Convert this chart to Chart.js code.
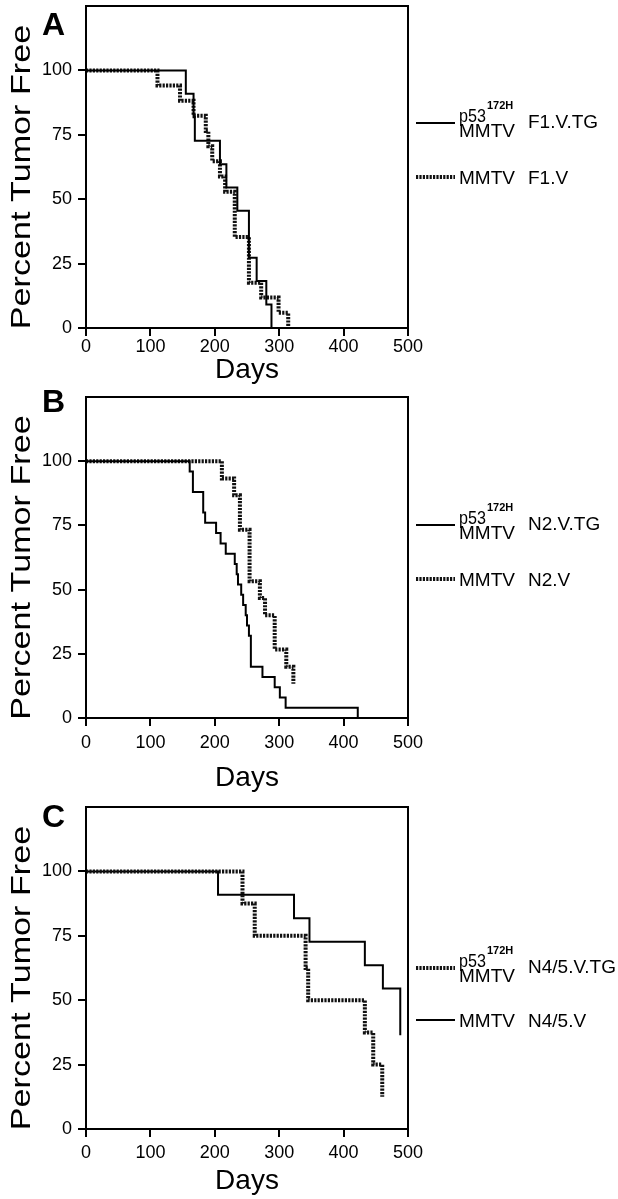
<!DOCTYPE html>
<html>
<head>
<meta charset="utf-8">
<script src="https://cdn.jsdelivr.net/npm/chart.js@4/dist/chart.umd.min.js"></script>
<style>
  body { margin: 0; background: #fff; }
  #wrap { position: relative; width: 618px; height: 1199px; }
  canvas { position: absolute; left: 0; display: block; }
</style>
</head>
<body>
<div id="wrap">
  <canvas id="panelA" width="618" height="385" style="top:0px"></canvas>
  <canvas id="panelB" width="618" height="410" style="top:385px"></canvas>
  <canvas id="panelC" width="618" height="404" style="top:795px"></canvas>
</div>
<script>
// axis ticks
const xTicks = [0, 100, 200, 300, 400, 500];
const yTicks = [0, 25, 50, 75, 100];

// Panel A (F1)
const aTgDays = [0, 155, 167, 169, 208, 218, 235, 253, 265, 280, 288];
const aTgPct  = [100, 90.9, 81.8, 72.7, 63.6, 54.5, 45.5, 27.3, 18.2, 9.1, 0];
const aVDays  = [0, 111, 146, 167, 186, 190, 196, 208, 216, 231, 253, 272, 299, 314];
const aVPct   = [100, 94.1, 88.2, 82.4, 76.5, 70.6, 64.7, 58.8, 52.9, 35.3, 17.6, 11.8, 5.9, 0];

// Panel B (N2)
const bTgDays = [0, 161, 166, 182, 185, 202, 209, 217, 231, 234, 236, 241, 244, 248, 250, 253, 256, 274, 293, 301, 310, 422];
const bTgPct  = [100, 96, 88, 80, 76, 72, 68, 64, 60, 56, 52, 48, 44, 40, 36, 32, 20, 16, 12, 8, 4, 0];
const bVDays  = [0, 211, 230, 239, 254, 270, 278, 293, 311, 322];
const bVPct   = [100, 93.3, 86.7, 73.3, 53.3, 46.7, 40, 26.7, 20, 13.3];

// Panel C (N4/5)
const cTgDays = [0, 243, 262, 341, 345, 433, 446, 460];
const cTgPct  = [100, 87.5, 75, 62.5, 50, 37.5, 25, 12.5];
const cVDays  = [0, 205, 323, 347, 433, 461, 488];
const cVPct   = [100, 90.9, 81.8, 72.7, 63.6, 54.5, 36.4];

const FONT = '"Liberation Sans", Arial, Helvetica, sans-serif';

function toPoints(days, pct) {
    return days.map((d, i) => ({ x: d, y: pct[i] }));
}

function solidSet(days, pct) {
    return { data: toPoints(days, pct), borderColor: '#000', borderWidth: 2,
             pointRadius: 0, stepped: true, fill: false };
}

function dashedSet(days, pct) {
    return { data: toPoints(days, pct), borderColor: '#111', borderWidth: 4,
             borderDash: [2.2, 1.2], pointRadius: 0, stepped: true, fill: false };
}

// frame, panel letter, rotated y title and the legend at the right
const panelDecor = {
    id: 'panelDecor',
    afterDraw(chart, args, opts) {
        const ctx = chart.ctx;
        const a = chart.chartArea;
        ctx.save();
        ctx.strokeStyle = '#000';
        ctx.lineWidth = 2;
        ctx.setLineDash([]);
        ctx.strokeRect(a.left, a.top, a.right - a.left, a.bottom - a.top);

        ctx.fillStyle = '#000';
        ctx.font = 'bold 32px ' + FONT;
        ctx.textBaseline = 'alphabetic';
        ctx.fillText(opts.letter, 42, opts.letterY);

        // y title
        ctx.save();
        ctx.translate(22, (a.top + a.bottom) / 2 + 10);
        ctx.rotate(-Math.PI / 2);
        ctx.scale(1.22, 1);
        ctx.font = '28px ' + FONT;
        ctx.textAlign = 'center';
        ctx.textBaseline = 'middle';
        ctx.fillText('Percent Tumor Free', 0, 0);
        ctx.restore();

        // legend
        opts.rows.forEach(row => {
            const ds = chart.data.datasets[row.ds];
            ctx.save();
            ctx.strokeStyle = ds.borderColor;
            ctx.lineWidth = ds.borderWidth;
            ctx.setLineDash(ds.borderDash || []);
            ctx.beginPath();
            ctx.moveTo(416, row.y);
            ctx.lineTo(455, row.y);
            ctx.stroke();
            ctx.restore();

            ctx.textAlign = 'left';
            ctx.textBaseline = 'alphabetic';
            if (row.tg) {
                ctx.save();
                ctx.translate(459, row.y - 1);
                ctx.scale(0.85, 1);
                ctx.font = '19px ' + FONT;
                ctx.fillText('p53', 0, 0);
                const w = ctx.measureText('p53').width * 0.85;
                ctx.restore();
                ctx.font = 'bold 11px ' + FONT;
                ctx.fillText('172H', 459 + w + 1, row.y - 14);
                ctx.font = '19px ' + FONT;
                ctx.fillText('MMTV', 459, row.y + 14);
                ctx.fillText(row.group, 528, row.y + 5);
            } else {
                ctx.font = '19px ' + FONT;
                ctx.fillText('MMTV', 459, row.y + 7);
                ctx.fillText(row.group, 528, row.y + 7);
            }
        });
        ctx.restore();
    }
};

function makePanel(id, datasets, p) {
    const ctx = document.getElementById(id).getContext('2d');
    return new Chart(ctx, {
        type: 'line',
        data: { datasets: datasets },
        plugins: [panelDecor],
        options: {
            responsive: false,
            animation: false,
            devicePixelRatio: 1,
            layout: { padding: { top: p.padTop, right: 210, left: 0, bottom: 0 } },
            plugins: {
                legend: { display: false },
                tooltip: { enabled: false },
                panelDecor: { letter: p.letter, letterY: p.letterY, rows: p.rows }
            },
            scales: {
                x: {
                    type: 'linear', min: 0, max: 500,
                    afterBuildTicks: s => { s.ticks = xTicks.map(v => ({ value: v })); },
                    afterFit: s => { s.height = p.xAxisH; s.paddingLeft = 0; s.paddingRight = 0; },
                    grid: { drawOnChartArea: false, drawTicks: true, tickLength: 8, color: '#000', lineWidth: 2 },
                    border: { display: false },
                    ticks: { color: '#000', font: { family: FONT, size: 18 }, padding: p.xTickPad, maxRotation: 0, autoSkip: false },
                    title: { display: true, text: 'Days', color: '#000',
                             font: { family: FONT, size: 28, lineHeight: 1 },
                             padding: { top: 0, bottom: p.titlePad } }
                },
                y: {
                    min: 0, max: 125,
                    afterBuildTicks: s => { s.ticks = yTicks.map(v => ({ value: v })); },
                    afterFit: s => { s.width = 86; s.paddingTop = 0; s.paddingBottom = 0; },
                    grid: { drawOnChartArea: false, drawTicks: true, tickLength: 8, color: '#000', lineWidth: 2 },
                    border: { display: false },
                    ticks: { color: '#000', font: { family: FONT, size: 18 }, padding: 6 }
                }
            }
        }
    });
}

makePanel('panelA', [solidSet(aTgDays, aTgPct), dashedSet(aVDays, aVPct)], {
    padTop: 6, xAxisH: 57, xTickPad: 0, titlePad: 1, letter: 'A', letterY: 35,
    rows: [{ ds: 0, y: 123, tg: true, group: 'F1.V.TG' }, { ds: 1, y: 177, tg: false, group: 'F1.V' }]
});

makePanel('panelB', [solidSet(bTgDays, bTgPct), dashedSet(bVDays, bVPct)], {
    padTop: 12, xAxisH: 77, xTickPad: 6, titlePad: 3, letter: 'B', letterY: 27,
    rows: [{ ds: 0, y: 140, tg: true, group: 'N2.V.TG' }, { ds: 1, y: 194, tg: false, group: 'N2.V' }]
});

makePanel('panelC', [dashedSet(cTgDays, cTgPct), solidSet(cVDays, cVPct)], {
    padTop: 12, xAxisH: 70, xTickPad: 5, titlePad: 4, letter: 'C', letterY: 32,
    rows: [{ ds: 0, y: 173, tg: true, group: 'N4/5.V.TG' }, { ds: 1, y: 225, tg: false, group: 'N4/5.V' }]
});
</script>
</body>
</html>
